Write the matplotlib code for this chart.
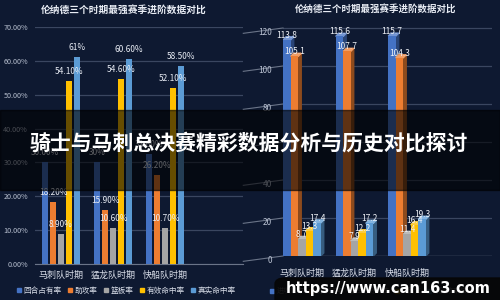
import matplotlib
matplotlib.use("Agg")
import matplotlib.pyplot as plt
import numpy as np
from matplotlib.patches import Polygon, Rectangle, FancyBboxPatch
from matplotlib.lines import Line2D

plt.rcParams['font.family'] = ['Noto Sans CJK SC', 'DejaVu Sans']

# --- data ---
periods = ["马刺队时期", "猛龙队时期", "快船队时期"]

pct_names = ["回合占有率", "助攻率", "篮板率", "有效命中率", "真实命中率"]
usage = [30.0, 30.0, 32.6]
assist = [18.2, 15.9, 26.2]
rebound = [8.9, 10.6, 10.7]
efg = [54.1, 54.6, 52.1]
ts = [61.0, 60.6, 58.5]
usage_lbl = ["30.00%", "30%", "32.60%"]
assist_lbl = ["18.20%", "15.90%", "26.20%"]
rebound_lbl = ["8.90%", "10.60%", "10.70%"]
efg_lbl = ["54.10%", "54.60%", "52.10%"]
ts_lbl = ["61%", "60.60%", "58.50%"]
pct_ticks = [0, 10, 20, 30, 40, 50, 60, 70]

adv_names = ["进攻效率", "防守效率", "胜利贡献值", "正负值", "球员效率值"]
off_rtg = [113.8, 115.6, 115.7]
def_rtg = [105.1, 107.7, 104.3]
win_sh = [8.7, 7.9, 11.4]
bpm = [13.3, 12.2, 16.4]
per = [17.4, 17.2, 19.3]
adv_ticks = [0, 20, 40, 60, 80, 100, 120]

title = "伦纳德三个时期最强赛季进阶数据对比"
banner = "骑士与马刺总决赛精彩数据分析与历史对比探讨"
url = "https://www.can163.com"

# --- style ---
BG = "#0e1931"
GRID = "#3a4660"
TICK = "#b8c0d0"
COLORS = ["#4472c4", "#ed7d31", "#a5a5a5", "#ffc000", "#5b9bd5"]

fig = plt.figure(figsize=(5, 3), dpi=100)
fig.patch.set_facecolor(BG)

# ---------------- left chart ----------------
ax = fig.add_axes([35 / 500, 36 / 300, 208 / 500, 237 / 300])
ax.set_facecolor(BG)
x = np.arange(len(periods))
w = 0.115
step = 0.154
series = [usage, assist, rebound, efg, ts]
labels = [usage_lbl, assist_lbl, rebound_lbl, efg_lbl, ts_lbl]
for i, (vals, lbls, col) in enumerate(zip(series, labels, COLORS)):
    xs = x + (i - 2) * step
    ax.bar(xs, vals, w, color=col, zorder=3)
    for xi, v, t in zip(xs, vals, lbls):
        ax.text(xi, v + 1.5, t, ha="center", va="bottom", fontsize=6,
                color="#e8ecf4", zorder=4)
ax.set_xlim(-0.5, 3.5)
ax.set_ylim(0, 70)
ax.set_yticks(pct_ticks)
ax.set_yticklabels(["%.2f%%" % t for t in pct_ticks])
ax.set_xticks(x)
ax.set_xticklabels(periods)
ax.tick_params(axis="y", length=0, labelsize=5.2, colors=TICK, pad=5)
ax.tick_params(axis="x", length=0, labelsize=6.5, colors="#d8dde8", pad=5)
ax.grid(axis="y", color=GRID, lw=0.9, zorder=0)
for s in ["top", "right", "left"]:
    ax.spines[s].set_visible(False)
ax.spines["bottom"].set_color("#6a7488")
fig.text(124 / 500, 1 - 10 / 300, title, ha="center", va="center",
         fontsize=7, fontweight="bold", color="#e8ecf4")

handles = [Line2D([], [], ls="", marker="s", ms=2.8, color=c) for c in COLORS]
fig.legend(handles, pct_names, loc="center", bbox_to_anchor=(126 / 500, 9 / 300),
           ncol=5, frameon=False, fontsize=5.5, labelcolor="#d8dde8",
           handlelength=0.6, handletextpad=0.3, columnspacing=0.8)

# ---------------- right chart (pseudo 3D) ----------------
ax2 = fig.add_axes([283 / 500, 44 / 300, 209 / 500, 237.5 / 300])
ax2.set_facecolor(BG)
w2 = 0.143
dx, dy = 0.057, 1.6
series2 = [off_rtg, def_rtg, win_sh, bpm, per]


def shade(c, f):
    rgb = np.array(matplotlib.colors.to_rgb(c))
    if f < 1:
        return tuple(rgb * f)
    return tuple(rgb + (1 - rgb) * (f - 1))


for i, (vals, col) in enumerate(zip(series2, COLORS)):
    xs = x + (i - 2) * w2
    ax2.bar(xs, vals, w2, color=col, zorder=4 + 2 * i)
    for xi, v in zip(xs, vals):
        r = xi + w2 / 2
        l = xi - w2 / 2
        ax2.add_patch(Polygon([(r, 0), (r + dx, dy), (r + dx, v + dy), (r, v)],
                              closed=True, color=shade(col, 0.6), zorder=3 + 2 * i))
        ax2.add_patch(Polygon([(l, v), (l + dx, v + dy), (r + dx, v + dy), (r, v)],
                              closed=True, color=shade(col, 1.25), zorder=3 + 2 * i))
        ax2.text(xi, v + 2.4, ("%.1f" % v), ha="center", va="center", fontsize=6,
                 color="#eef1f6", zorder=20)

ax2.set_xlim(-0.362, 3.62)
ax2.set_ylim(0, 125)
ax2.set_yticks(adv_ticks)
ax2.set_yticklabels([])
ax2.tick_params(axis="y", length=0)
ax2.set_xticks(x)
ax2.set_xticklabels(periods)
ax2.tick_params(axis="x", length=0, labelsize=6.5, colors="#d8dde8", pad=9)
ax2.grid(axis="y", color=GRID, lw=0.9, zorder=0)
for s in ["top", "right", "left", "bottom"]:
    ax2.spines[s].set_visible(False)
for t in adv_ticks:
    ax2.plot([-0.19, 0.0], [t - 2.8, t], transform=ax2.get_yaxis_transform(),
             color="#6a7488", lw=0.8, clip_on=False)
    ax2.text(-0.052, t - 2.6, str(t), transform=ax2.get_yaxis_transform(),
             ha="right", va="center", fontsize=6, color=TICK)
ax2.axhline(0, color="#6a7488", lw=0.9, zorder=1)
fig.text(376 / 500, 1 - 9 / 300, title, ha="center", va="center",
         fontsize=6.8, fontweight="bold", color="#e8ecf4")
fig.legend(handles, adv_names, loc="center left", bbox_to_anchor=(264 / 500, 9 / 300),
           ncol=5, frameon=False, fontsize=5, labelcolor="#d8dde8",
           handlelength=0.6, handletextpad=0.3, columnspacing=0.7)

# ---------------- overlays ----------------
fig.patches.append(Rectangle((0, 110 / 300), 1, 80 / 300, transform=fig.transFigure,
                             color="black", alpha=0.6, zorder=8))
fig.text(249 / 500, 1 - 143 / 300, banner, ha="center", va="center",
         fontsize=15, fontweight="bold", color="white", zorder=9)
fig.patches.append(FancyBboxPatch((275 / 500, -0.05), 0.5, 22 / 300 + 0.05,
                                  boxstyle="round,pad=0,rounding_size=0.02",
                                  transform=fig.transFigure, color="#060606",
                                  alpha=0.92, zorder=10))
fig.text(388 / 500, 11 / 300, url, ha="center", va="center", fontsize=10.5,
         fontweight="bold", color="white", family="DejaVu Sans", zorder=11)

fig.savefig("out.png", dpi=100, facecolor=BG)
